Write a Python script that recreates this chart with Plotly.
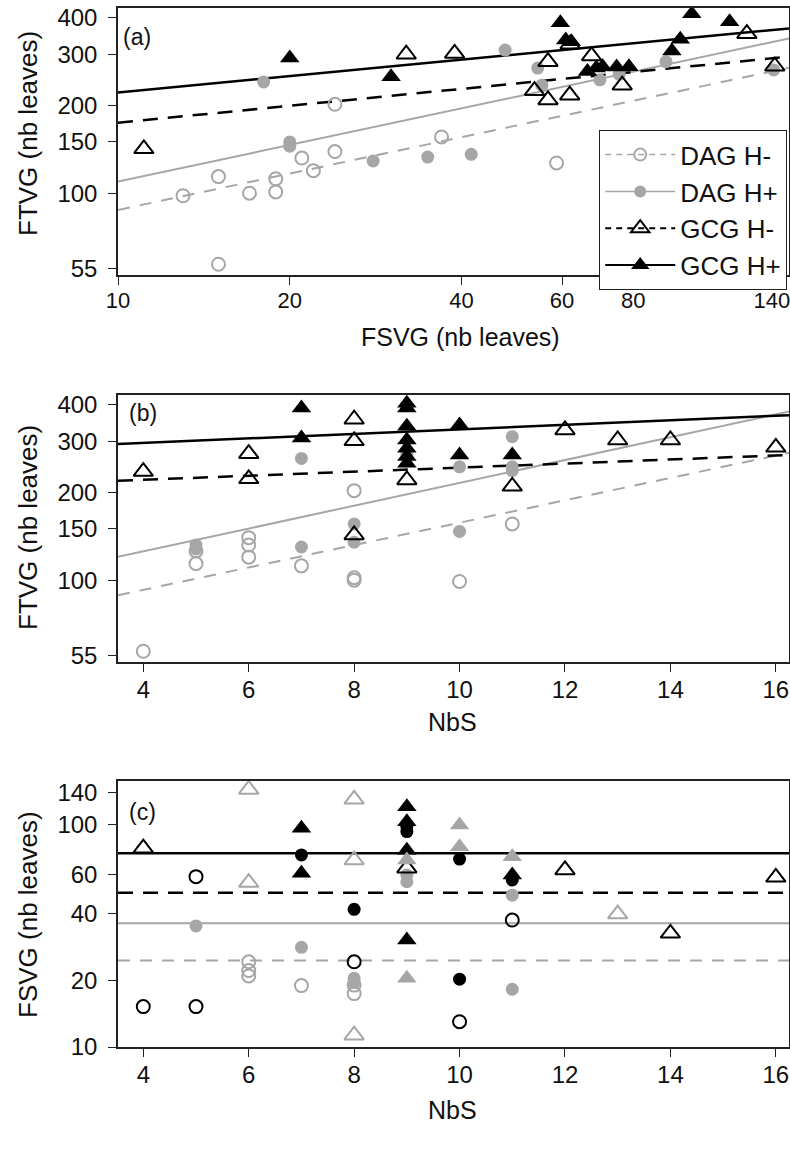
import plotly.graph_objects as go
import numpy as np

# ---------------- data ----------------
# Panel (a): FTVG vs FSVG
a_dag_hm_x = [15.0, 13.0, 17.0, 18.9, 18.9, 21.0, 22.0, 24.0, 24.0, 15.0, 36.9, 58.7]
a_dag_hm_y = [114, 98, 100, 112, 101, 132, 119.5, 139, 202, 57, 156, 127]
a_dag_hp_x = [18, 20, 20, 28, 34.9, 41.6, 47.7, 54.4, 55.3, 69.9, 75.6, 91.3, 141]
a_dag_hp_y = [241, 150, 145, 129, 133, 136, 310, 269, 235, 245, 256, 283, 265]
a_gcg_hm_x = [11.1, 32.0, 38.9, 53.7, 56.7, 56.7, 61.9, 67.6, 76.5, 126.5, 141.6, 62]
a_gcg_hm_y = [142, 300, 302, 225, 283, 209, 217, 296, 235, 353, 273, 325]
a_gcg_hp_x = [20, 30.1, 59.6, 60.9, 62.3, 66.5, 68.9, 70.7, 74.8, 78.6, 93.5, 96.7, 101.3, 118]
a_gcg_hp_y = [291, 251, 385, 336, 331, 262, 269, 272, 271, 272, 308, 338, 413, 388]

# Panel (b): FTVG vs NbS
b_dag_hm_x = [4, 5, 5, 6, 6, 6, 7, 8, 8, 8, 10, 11]
b_dag_hm_y = [57, 126, 114, 140, 132, 120, 112, 203, 102, 100, 99, 156]
b_dag_hp_x = [5, 5, 7, 7, 8, 8, 9, 10, 10, 11, 11, 11]
b_dag_hp_y = [132, 128, 262, 130, 156, 135, 270, 245, 147, 311, 245, 238]
b_gcg_hm_x = [4, 6, 6, 8, 8, 8, 9, 11, 12, 13, 14, 16]
b_gcg_hm_y = [236, 272, 223, 357, 301, 143, 221, 210, 328, 303, 303, 286]
b_gcg_hp_x = [7, 7, 9, 9, 9, 9, 9, 9, 9, 10, 10, 11]
b_gcg_hp_y = [390, 308, 405, 390, 338, 303, 284, 266, 252, 341, 269, 269]

# Panel (c): FSVG vs NbS
c_blk_open_circ_x = [4, 5, 5, 8, 10, 11]
c_blk_open_circ_y = [15.2, 58.5, 15.2, 24.2, 13.0, 37.3]
c_blk_fill_circ_x = [7, 8, 9, 9, 10, 10, 11]
c_blk_fill_circ_y = [73.3, 41.7, 98.3, 93.4, 70.2, 20.2, 56.5]
c_gry_open_circ_x = [6, 6, 6, 7, 8, 8]
c_gry_open_circ_y = [24.2, 22.1, 20.9, 18.9, 19.0, 17.4]
c_gry_fill_circ_x = [5, 7, 8, 8, 9, 9, 11, 11]
c_gry_fill_circ_y = [35.1, 28.1, 20.4, 19.5, 59.5, 55.5, 48.3, 18.2]
c_blk_open_tri_x = [4, 9, 12, 14, 16]
c_blk_open_tri_y = [78.6, 63.9, 62.7, 32.5, 58.1]
c_gry_open_tri_x = [6, 6, 8, 8, 8, 13]
c_gry_open_tri_y = [144.6, 55, 130.4, 69.5, 11.3, 39.7]
c_blk_fill_tri_x = [7, 7, 9, 9, 9, 9, 11]
c_blk_fill_tri_y = [96.6, 60.6, 120.8, 103.5, 77, 30.3, 59.5]
c_gry_fill_tri_x = [9, 9, 10, 10, 11]
c_gry_fill_tri_y = [69.5, 20.4, 100, 79.8, 72]

# Fitted lines, order: DAG H-, DAG H+, GCG H-, GCG H+
groups = ["DAG H-", "DAG H+", "GCG H-", "GCG H+"]
fit_a_intercept = [1.5275, 1.6218, 2.049, 2.159]     # log10(y) = a + b*log10(x)
fit_a_slope = [0.415, 0.418, 0.193, 0.187]
fit_b_intercept = [1.8131, 1.9424, 2.3169, 2.4402]   # log10(y) = a + b*x
fit_b_slope = [0.03843, 0.03918, 0.00697, 0.00778]
fit_c_mean = [24.5, 36.1, 49.5, 74.5]                 # horizontal lines

ticks_a_x = [10, 20, 40, 60, 80, 100, 140]
ticks_a_x_text = ["10", "20", "40", "60", "80", "", "140"]
ticks_ftvg = [55, 100, 150, 200, 300, 400]
ticks_nbs = [4, 6, 8, 10, 12, 14, 16]
ticks_fsvg = [10, 20, 40, 60, 100, 140]

# ---------------- styling ----------------
GRAY = "#a6a6a6"
BLACK = "#000000"
FONT = "Liberation Sans, Arial, sans-serif"
colors = [GRAY, GRAY, BLACK, BLACK]
dashes = ["12px,10px", "solid", "15px,10px", "solid"]
lwidths = [2, 2, 2.5, 2.5]
symbols = ["circle-open", "circle", "triangle-up-open", "triangle-up"]
msizes = [13, 13, 17, 17]

W, H = 790, 1151
xdom = [118 / W, 789 / W]
def ydom(top, bot):
    return [1 - bot / H, 1 - top / H]

fig = go.Figure()

def add_points(x, y, sym, col, size, xa, ya):
    open_ = sym.endswith("open")
    fig.add_trace(go.Scatter(
        x=x, y=y, mode="markers", showlegend=False, xaxis=xa, yaxis=ya,
        marker=dict(symbol=sym, size=size, color=col,
                    line=dict(color=col, width=2 if open_ else 0))))

def add_line(x, y, i, xa, ya):
    fig.add_trace(go.Scatter(
        x=x, y=y, mode="lines", showlegend=False, xaxis=xa, yaxis=ya,
        line=dict(color=colors[i], width=lwidths[i], dash=dashes[i])))

# Panel (a)
xa_rng = [1.0, 2.176]
ya_rng = [1.719, 2.636]
xs_a = 10 ** np.array(xa_rng)
for i in range(4):
    ys = 10 ** (fit_a_intercept[i] + fit_a_slope[i] * np.log10(xs_a))
    add_line(xs_a, ys, i, "x", "y")
for i, (x, y) in enumerate([(a_dag_hm_x, a_dag_hm_y), (a_dag_hp_x, a_dag_hp_y),
                            (a_gcg_hm_x, a_gcg_hm_y), (a_gcg_hp_x, a_gcg_hp_y)]):
    add_points(x, y, symbols[i], colors[i], msizes[i], "x", "y")

# Panel (b)
xb_rng = [3.52, 16.25]
xs_b = np.array(xb_rng)
for i in range(4):
    ys = 10 ** (fit_b_intercept[i] + fit_b_slope[i] * xs_b)
    add_line(xs_b, ys, i, "x2", "y2")
for i, (x, y) in enumerate([(b_dag_hm_x, b_dag_hm_y), (b_dag_hp_x, b_dag_hp_y),
                            (b_gcg_hm_x, b_gcg_hm_y), (b_gcg_hp_x, b_gcg_hp_y)]):
    add_points(x, y, symbols[i], colors[i], msizes[i], "x2", "y2")

# Panel (c)
for i in range(4):
    add_line(xs_b, [fit_c_mean[i]] * 2, i, "x3", "y3")
c_sets = [
    (c_blk_open_circ_x, c_blk_open_circ_y, "circle-open", BLACK, 13),
    (c_blk_fill_circ_x, c_blk_fill_circ_y, "circle", BLACK, 13),
    (c_gry_open_circ_x, c_gry_open_circ_y, "circle-open", GRAY, 13),
    (c_gry_fill_circ_x, c_gry_fill_circ_y, "circle", GRAY, 13),
    (c_blk_open_tri_x, c_blk_open_tri_y, "triangle-up-open", BLACK, 17),
    (c_gry_open_tri_x, c_gry_open_tri_y, "triangle-up-open", GRAY, 17),
    (c_blk_fill_tri_x, c_blk_fill_tri_y, "triangle-up", BLACK, 17),
    (c_gry_fill_tri_x, c_gry_fill_tri_y, "triangle-up", GRAY, 17),
]
for x, y, sym, col, sz in c_sets:
    add_points(x, y, sym, col, sz, "x3", "y3")

# Legend entries
for i in range(4):
    open_ = symbols[i].endswith("open")
    fig.add_trace(go.Scatter(
        x=[None], y=[None], mode="lines+markers", name=groups[i], xaxis="x", yaxis="y",
        line=dict(color=colors[i], width=1.5 if i < 2 else 2,
                  dash="6px,5px" if i in (0, 2) else "solid"),
        marker=dict(symbol=symbols[i], size=msizes[i] - 1, color=colors[i],
                    line=dict(color=colors[i], width=2 if open_ else 0))))

axis_common = dict(showline=True, mirror=True, linecolor="#222", linewidth=1.5,
                   ticks="outside", ticklen=8, tickwidth=1.2, tickcolor="#222",
                   showgrid=False, zeroline=False, automargin=False)
tf24 = dict(family=FONT, size=24, color="#111")
tf22 = dict(family=FONT, size=22, color="#111")

fig.update_layout(
    width=W, height=H, margin=dict(l=0, r=0, t=0, b=0, autoexpand=False),
    paper_bgcolor="white", plot_bgcolor="white",
    font=dict(family=FONT, color="#111"),
    xaxis=dict(domain=xdom, anchor="y", type="log", range=xa_rng,
               tickvals=ticks_a_x, ticktext=ticks_a_x_text, tickfont=tf22,
               ticklabeloverflow="allow", ticklabelstandoff=-3, **axis_common),
    yaxis=dict(domain=ydom(8, 275), anchor="x", type="log", range=ya_rng,
               tickvals=ticks_ftvg, ticktext=[str(v) for v in ticks_ftvg],
               tickfont=tf24, ticklabelstandoff=6, **axis_common),
    xaxis2=dict(domain=xdom, anchor="y2", range=xb_rng, tickvals=ticks_nbs, tickfont=tf24,
                ticklabeloverflow="allow", ticklabelstandoff=-3, **axis_common),
    yaxis2=dict(domain=ydom(395, 662), anchor="x2", type="log", range=ya_rng,
                tickvals=ticks_ftvg, ticktext=[str(v) for v in ticks_ftvg],
                tickfont=tf24, ticklabelstandoff=6, **axis_common),
    xaxis3=dict(domain=xdom, anchor="y3", range=xb_rng, tickvals=ticks_nbs, tickfont=tf24,
                ticklabeloverflow="allow", ticklabelstandoff=-3, **axis_common),
    yaxis3=dict(domain=ydom(781, 1047), anchor="x3", type="log", range=[1.0, 2.198],
                tickvals=ticks_fsvg, ticktext=[str(v) for v in ticks_fsvg],
                tickfont=tf24, ticklabelstandoff=6, **axis_common),
    legend=dict(x=599 / W, y=1 - 130 / H, xanchor="left", yanchor="top",
                bgcolor="white", bordercolor="#222", borderwidth=1.2,
                font=dict(family=FONT, size=26, color="#111"),
                itemwidth=70, tracegroupgap=0),
    showlegend=True,
)

def ann(text, x, y, size=25, angle=0):
    fig.add_annotation(text=text, x=x / W, y=1 - y / H, xref="paper", yref="paper",
                       showarrow=False, textangle=angle, xanchor="center", yanchor="middle",
                       font=dict(family=FONT, size=size, color="#111"))

ann("FSVG (nb leaves)", 460, 337)
ann("NbS", 453, 722)
ann("NbS", 453, 1110)
ann("FTVG (nb leaves)", 28, 134, size=26, angle=-90)
ann("FTVG (nb leaves)", 28, 528, size=26, angle=-90)
ann("FSVG (nb leaves)", 28, 915, size=26, angle=-90)
ann("(a)", 137, 37, size=23)
ann("(b)", 143, 413, size=23)
ann("(c)", 142, 812, size=23)

fig.write_html("out.html", config={"displayModeBar": False},
               post_script="document.body.style.margin='0';document.body.style.overflow='hidden';")
